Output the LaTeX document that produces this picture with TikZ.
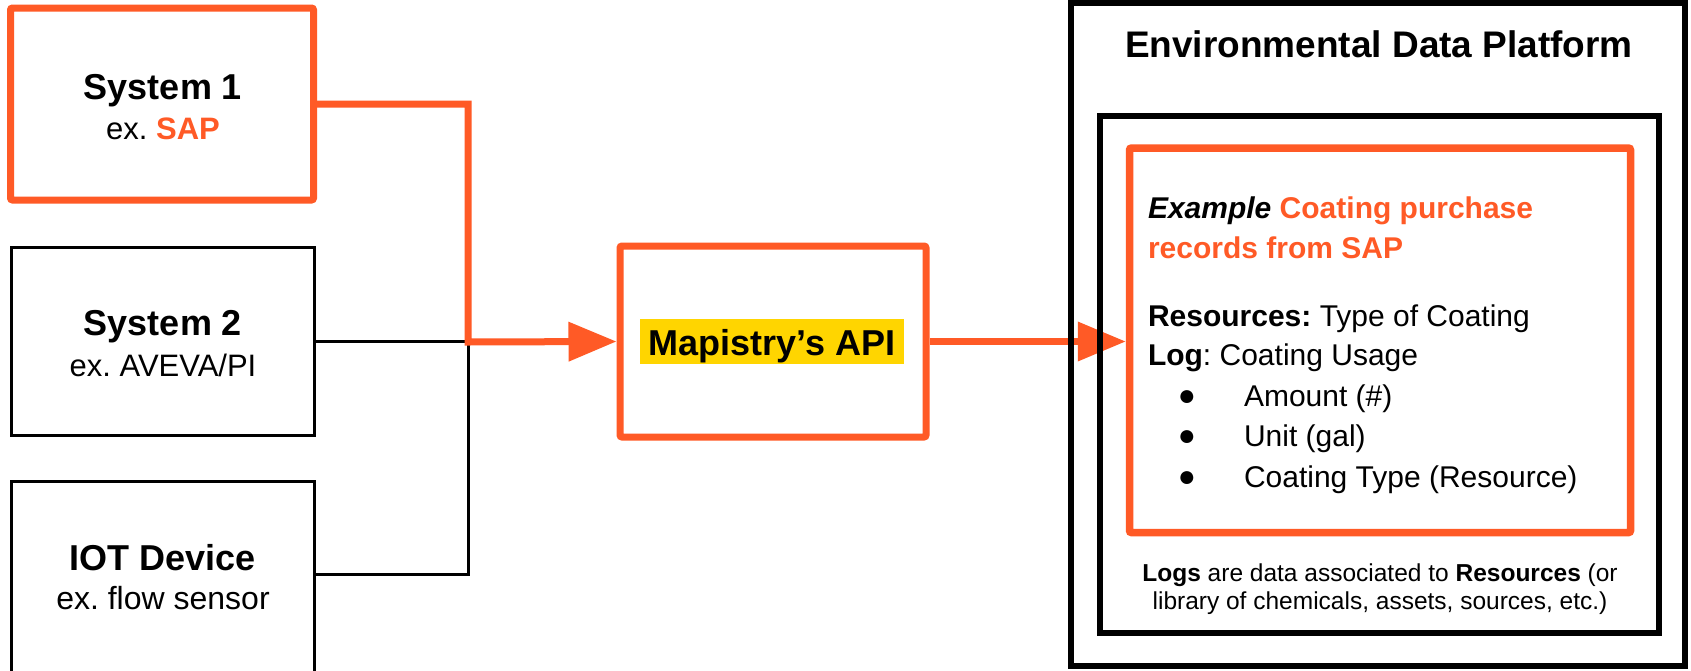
\documentclass[tikz,border=0pt]{standalone}
\usepackage{fontspec}
\setmainfont{Liberation Sans}
\usetikzlibrary{arrows.meta}
\definecolor{mapor}{HTML}{FF5A26}
\definecolor{mapyl}{HTML}{FFD500}
\pgfdeclarelayer{paper}
\pgfdeclarelayer{bg}
\pgfsetlayers{paper,bg,main}
\newcommand{\fs}[1]{\fontsize{#1}{#1}\selectfont}
\frenchspacing
\begin{document}
\begin{tikzpicture}[x=1pt,y=-1pt,
  obox/.style={draw=mapor, line width=7pt, rounded corners=2pt},
  kbox/.style={draw=black, line width=3pt},
  pbox/.style={draw=black, line width=6pt},
  txt/.style={inner sep=0pt, outer sep=0pt, anchor=base},
  ltxt/.style={inner sep=0pt, outer sep=0pt, anchor=base west},
  conn/.style={draw=mapor, line width=7pt},
  wire/.style={draw=black, line width=3pt},
  arr/.style={-{Triangle[length=48pt,width=38pt]}}]
\useasboundingbox (0,0) rectangle (1691,670);
\begin{pgfonlayer}{paper}
\fill[white] (0,0) rectangle (1691,670);
\end{pgfonlayer}

% source systems
\node[obox, minimum width=303pt, minimum height=192pt] (s1) at (162,104) {};
\node[kbox, minimum width=302.5pt, minimum height=188pt] (s2) at (162.75,341.5) {};
\node[kbox, minimum width=302.5pt, minimum height=220pt] (iot) at (162.75,591.5) {};

\node[txt] (s1t) at (163,99) {\fs{36}\bfseries System 1};
\node[txt] (s1s) at (163,139) {\fs{31}ex. \textcolor{mapor}{\bfseries SAP}};
\node[txt] (s2t) at (163,335) {\fs{36}\bfseries System 2};
\node[txt] (s2s) at (163,376) {\fs{31}ex. AVEVA/PI};
\node[txt] (iott) at (163,570) {\fs{36}\bfseries IOT Device};
\node[txt] (iots) at (163,609) {\fs{32}ex. flow sensor};

% API
\node[obox, minimum width=306pt, minimum height=191pt] (api) at (773,341.5) {};
\node[fill=mapyl, inner sep=0pt, minimum width=264pt, minimum height=45pt] (hl) at (772,341.5) {};
\node[txt] (apit) at (772,355) {\fs{36}\bfseries Mapistry’s API};

% platform
\node[pbox, minimum width=613.7pt, minimum height=663.3pt] (edp) at (1378.2,334.7) {};
\node[pbox, minimum width=558.7pt, minimum height=517.3pt] (inner) at (1379.7,374.4) {};
\node[obox, line width=7.5pt, minimum width=501pt, minimum height=384.5pt] (ex) at (1380,340.3) {};

\node[txt] (title) at (1379,57) {\fs{37}\bfseries Environmental Data Platform};

\node[ltxt] (l1) at (1148,218) {\fs{30}\bfseries\itshape Example \textcolor{mapor}{\upshape Coating purchase}};
\node[ltxt] (l2) at (1148,258) {\fs{30}\bfseries\color{mapor}records from SAP};
\node[ltxt] (l3) at (1148,326) {\fs{30}{\bfseries Resources:} Type of Coating};
\node[ltxt] (l4) at (1148,365) {\fs{30}{\bfseries Log}: Coating Usage};
\node[txt] (b1) at (1187,405) {\fs{30}●};
\node[txt] (b2) at (1187,445) {\fs{30}●};
\node[txt] (b3) at (1187,486) {\fs{30}●};
\node[ltxt] (l5) at (1244,406) {\fs{30}Amount (\#)};
\node[ltxt] (l6) at (1244,446) {\fs{30}Unit (gal)};
\node[ltxt] (l7) at (1244,487) {\fs{30}Coating Type (Resource)};

\node[txt] (f1) at (1380,581) {\fs{24.5}{\bfseries Logs} are data associated to {\bfseries Resources} (or};
\node[txt] (f2) at (1380,609) {\fs{24.5}library of chemicals, assets, sources, etc.)};

% connectors
\coordinate (j) at (468,342);
\coordinate (jb) at (468,574);
\draw[wire] (s2.east) -- (s2.east -| j);
\draw[wire] (j) -- (jb) -- (jb -| iot.east);
\draw[conn, arr] (s1.east) -| (j) -- (api.west);
\begin{pgfonlayer}{bg}
\draw[conn, arr] (api.east) -- (api.east -| ex.west);
\end{pgfonlayer}
\end{tikzpicture}
\end{document}
